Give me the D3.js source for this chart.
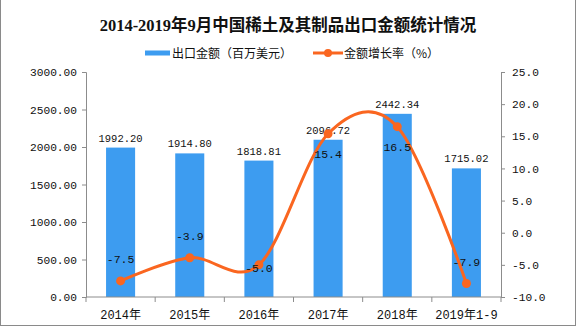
<!DOCTYPE html>
<html><head><meta charset="utf-8">
<script src="https://cdn.jsdelivr.net/npm/d3@7/dist/d3.min.js"></script>
<style>
html,body{margin:0;padding:0;background:#fff;}
svg{display:block;}
</style></head>
<body>
<svg id="c" width="576" height="327"></svg>
<script>
const categories = ["2014年","2015年","2016年","2017年","2018年","2019年1-9"];
const exportValues = [1992.20, 1914.80, 1818.81, 2096.72, 2442.34, 1715.02];
const growthRates = [-7.5, -3.9, -5.0, 15.4, 16.5, -7.9];
const growthLabelSide = ["above","above","center","below","below","above"];
const leftTicks = [0, 500, 1000, 1500, 2000, 2500, 3000];
const rightTicks = [-10, -5, 0, 5, 10, 15, 20, 25];
const title = "2014-2019年9月中国稀土及其制品出口金额统计情况";
const legendBar = "出口金额（百万美元）";
const legendLine = "金额增长率（%）";

const BLUE = "#3d9cf0", ORANGE = "#fa6620", AXIS = "#8c8c8c";
const MONO = "'Liberation Mono','DejaVu Sans Mono','Noto Sans CJK SC',monospace";

const svg = d3.select("#c");
const m = {left: 86, right: 501, top: 72, bottom: 297};

// frame
svg.append("rect").attr("x",0.5).attr("y",-2).attr("width",575).attr("height",327.5)
  .attr("fill","none").attr("stroke","#8a8a8a").attr("stroke-width",1);

const x = d3.scaleBand().domain(categories).range([m.left, m.right]).paddingInner(0.58).paddingOuter(0.29);
const xb = d3.scaleBand().domain(categories).range([m.left, m.right]);
const yL = d3.scaleLinear().domain([0, 3000]).range([m.bottom, m.top]);
const yR = d3.scaleLinear().domain([-10, 25]).range([m.bottom, m.top]);

// title
svg.append("text").attr("x",288).attr("y",31).attr("text-anchor","middle")
  .attr("font-family","'Liberation Serif','Noto Sans CJK SC',serif").attr("font-weight","bold")
  .attr("font-size",16.5).attr("fill","#111").text(title);

// legend
svg.append("rect").attr("x",145).attr("y",50.5).attr("width",25).attr("height",5).attr("fill",BLUE);
svg.append("text").attr("x",172).attr("y",57.5).attr("font-family","'Noto Sans CJK SC',sans-serif")
  .attr("font-size",12).attr("fill","#111").text(legendBar);
svg.append("line").attr("x1",313).attr("x2",343).attr("y1",53).attr("y2",53).attr("stroke",ORANGE).attr("stroke-width",3);
svg.append("circle").attr("cx",328).attr("cy",53).attr("r",4).attr("fill",ORANGE);
svg.append("text").attr("x",344).attr("y",57.5).attr("font-family","'Noto Sans CJK SC',sans-serif")
  .attr("font-size",12).attr("fill","#111").text(legendLine);

// bars
svg.append("g").selectAll("rect").data(exportValues).join("rect")
  .attr("x",(d,i)=>x(categories[i])).attr("width",x.bandwidth())
  .attr("y",d=>yL(d)).attr("height",d=>yL(0)-yL(d)).attr("fill",BLUE);

// bar labels
svg.append("g").selectAll("text").data(exportValues).join("text")
  .attr("x",(d,i)=>x(categories[i])+x.bandwidth()/2).attr("y",d=>yL(d)-6)
  .attr("text-anchor","middle").attr("font-family",MONO).attr("font-size",10.5).attr("fill","#111")
  .text(d=>d.toFixed(2));

// axes
const gL = svg.append("g").attr("transform",`translate(${m.left},0)`)
  .call(d3.axisLeft(yL).tickValues(leftTicks).tickFormat(d=>d.toFixed(2)).tickSize(4).tickPadding(5));
const gR = svg.append("g").attr("transform",`translate(${m.right},0)`)
  .call(d3.axisRight(yR).tickValues(rightTicks).tickFormat(d=>d.toFixed(1)).tickSize(4).tickPadding(7));
const gX = svg.append("g").attr("transform",`translate(0,${m.bottom})`)
  .call(d3.axisBottom(xb).tickSize(0).tickPadding(13));
[gL,gR,gX].forEach(g=>{
  g.select(".domain").attr("stroke",AXIS);
  g.selectAll(".tick line").attr("stroke",AXIS);
  g.selectAll("text").attr("font-family",MONO).attr("fill","#111");
});
gL.selectAll("text").attr("font-size",11.2);
gR.selectAll("text").attr("font-size",11.2);
gX.selectAll("text").attr("font-size",12);
gX.select(".domain").attr("d",`M${m.left},0H${m.right}`);
// category separators on x axis
const bounds = categories.map(c=>xb(c)).concat([m.right]);
gX.selectAll(".sep").data(bounds).join("line").attr("class","sep")
  .attr("x1",d=>d).attr("x2",d=>d).attr("y1",0).attr("y2",5).attr("stroke",AXIS);

// line
const cx = (i)=>xb(categories[i])+xb.bandwidth()/2;
const line = d3.line().x((d,i)=>cx(i)).y(d=>yR(d)).curve(d3.curveCardinal.tension(0));
svg.append("path").datum(growthRates).attr("d",line).attr("fill","none")
  .attr("stroke",ORANGE).attr("stroke-width",3);
svg.append("g").selectAll("circle").data(growthRates).join("circle")
  .attr("cx",(d,i)=>cx(i)).attr("cy",d=>yR(d)).attr("r",4.5).attr("fill",ORANGE);
const off = {above:-22, below:20, center:3};
svg.append("g").selectAll("text").data(growthRates).join("text")
  .attr("x",(d,i)=>cx(i)).attr("y",(d,i)=>yR(d)+off[growthLabelSide[i]]+4)
  .attr("text-anchor","middle").attr("font-family",MONO).attr("font-size",11.5).attr("fill","#111")
  .text(d=>d.toFixed(1));
</script>
</body></html>
